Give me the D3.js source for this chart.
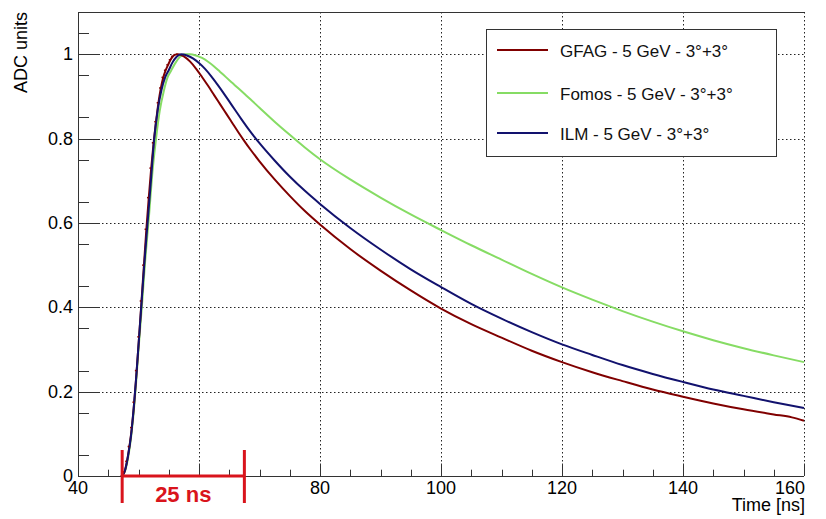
<!DOCTYPE html>
<html>
<head>
<meta charset="utf-8">
<script src="https://cdn.jsdelivr.net/npm/d3@7"></script>
<style>
  html, body { margin: 0; padding: 0; background: #fff; }
  svg { display: block; font-family: "Liberation Sans", Arial, Helvetica, sans-serif; }
</style>
</head>
<body>
<svg id="chart" width="826" height="519"></svg>
<script>
// Pulse shapes (normalised ADC amplitude vs time)
const timeGFAG = [47.3, 47.7, 48.1, 48.5, 48.9, 49.3, 49.7, 50.1, 50.5, 50.9, 51.3, 51.7, 52.1, 52.5, 52.9, 53.3, 53.7, 54.1, 54.5, 54.9, 55.3, 55.7, 56.1, 56.5, 57.5, 58.5, 59.5, 60.5, 61.5, 62.5, 63.5, 64.5, 65.5, 66.5, 67.5, 68.5, 70, 72.5, 75, 77.5, 80, 85, 90, 95, 100, 105, 110, 115, 120, 125, 130, 135, 140, 145, 150, 155, 158, 160];
const adcGFAG  = [0, 0.01, 0.035, 0.07, 0.115, 0.175, 0.25, 0.33, 0.415, 0.5, 0.585, 0.66, 0.73, 0.79, 0.84, 0.885, 0.92, 0.945, 0.962, 0.975, 0.987, 0.995, 0.999, 1.0, 0.995, 0.983, 0.966, 0.946, 0.925, 0.903, 0.881, 0.859, 0.837, 0.815, 0.794, 0.774, 0.746, 0.703, 0.664, 0.628, 0.596, 0.538, 0.487, 0.44, 0.397, 0.36, 0.328, 0.297, 0.27, 0.246, 0.225, 0.205, 0.188, 0.172, 0.158, 0.146, 0.139, 0.131];

const timeFomos = [47.3, 47.8, 48.3, 48.8, 49.2, 49.6, 50, 50.6, 51.1, 51.7, 52.3, 52.9, 53.5, 54.2, 54.8, 55.4, 56, 56.8, 57.7, 58.5, 59.5, 60.5, 61.5, 62.5, 63.5, 64.5, 65.5, 66.5, 67.5, 68.5, 70, 72.5, 75, 77.5, 80, 85, 90, 95, 100, 105, 110, 115, 120, 125, 130, 135, 140, 145, 150, 155, 160];
const adcFomos  = [0, 0.013, 0.045, 0.095, 0.15, 0.22, 0.3, 0.41, 0.51, 0.61, 0.72, 0.8, 0.865, 0.914, 0.945, 0.961, 0.977, 0.993, 1.0, 1.0, 0.997, 0.991, 0.982, 0.971, 0.958, 0.945, 0.932, 0.919, 0.906, 0.893, 0.873, 0.84, 0.809, 0.779, 0.751, 0.703, 0.66, 0.62, 0.583, 0.547, 0.513, 0.479, 0.447, 0.418, 0.391, 0.366, 0.343, 0.322, 0.303, 0.286, 0.27];

const timeILM = [47.3, 47.8, 48.3, 48.8, 49.2, 49.6, 50, 50.5, 51, 51.5, 52, 52.6, 53.2, 53.8, 54.4, 55, 55.6, 56.3, 57.1, 58, 59, 60, 61, 62, 63, 64, 65, 66, 67, 68, 69, 70, 72.5, 75, 77.5, 80, 85, 90, 95, 100, 105, 110, 115, 120, 125, 130, 135, 140, 145, 150, 155, 160];
const adcILM  = [0, 0.015, 0.05, 0.1, 0.16, 0.23, 0.31, 0.41, 0.51, 0.6, 0.69, 0.8, 0.87, 0.915, 0.945, 0.962, 0.98, 0.994, 1.0, 0.997, 0.99, 0.979, 0.965, 0.948, 0.929, 0.909, 0.888, 0.867, 0.846, 0.826, 0.807, 0.789, 0.748, 0.71, 0.676, 0.645, 0.588, 0.537, 0.49, 0.448, 0.408, 0.373, 0.341, 0.312, 0.287, 0.263, 0.242, 0.223, 0.205, 0.19, 0.175, 0.161];

const seriesNames  = ["GFAG - 5 GeV - 3°+3°", "Fomos - 5 GeV - 3°+3°", "ILM - 5 GeV - 3°+3°"];
const seriesColors = ["#800000", "#86dc64", "#12126e"];

const xTickValues  = [40, 60, 80, 100, 120, 140, 160];
const xLabelValues = [40, 80, 100, 120, 140, 160];
const xLabelTexts  = ["40", "80", "100", "120", "140", "160"];
const yTickValues = [0, 0.2, 0.4, 0.6, 0.8, 1];
const yTickLabels = ["0", "0.2", "0.4", "0.6", "0.8", "1"];

// Rise-time bracket (axis units) and its caption
const bracketRange = [47.3, 67.5];
const bracketLabel = "25 ns";

const svg = d3.select("#chart");
const plotLeft = 78, plotRight = 804, plotTop = 12, plotBottom = 476;

const x = d3.scaleLinear().domain([40, 160]).range([plotLeft, plotRight]);
const y = d3.scaleLinear().domain([0, 1.1]).range([plotBottom, plotTop]);

const gridColor = "#222";
const axisColor = "#333";

// dotted grid
const grid = svg.append("g").attr("stroke", gridColor).attr("stroke-width", 1)
  .attr("stroke-dasharray", "1.5,2.5");
grid.selectAll("line.gx").data(xTickValues.slice(1)).enter().append("line")
  .attr("x1", d => Math.round(x(d)) + 0.5).attr("x2", d => Math.round(x(d)) + 0.5)
  .attr("y1", plotTop).attr("y2", plotBottom);
grid.selectAll("line.gy").data(yTickValues.slice(1)).enter().append("line")
  .attr("x1", plotLeft).attr("x2", plotRight)
  .attr("y1", d => Math.round(y(d)) + 0.5).attr("y2", d => Math.round(y(d)) + 0.5);

// top frame
svg.append("line").attr("x1", plotLeft).attr("x2", plotRight)
  .attr("y1", plotTop + 0.5).attr("y2", plotTop + 0.5)
  .attr("stroke", axisColor).attr("stroke-width", 1);

// curves
const line = d3.line().x(d => x(d[0])).y(d => y(d[1])).curve(d3.curveMonotoneX);
const zip = (a, b) => a.map((t, i) => [t, b[i]]);
const dataGFAG = zip(timeGFAG, adcGFAG);
const dataFomos = zip(timeFomos, adcFomos);
const dataILM = zip(timeILM, adcILM);

svg.append("path").datum(dataFomos).attr("d", line).attr("fill", "none")
  .attr("stroke", seriesColors[1]).attr("stroke-width", 2);
svg.append("path").datum(dataGFAG).attr("d", line).attr("fill", "none")
  .attr("stroke", seriesColors[0]).attr("stroke-width", 2);
svg.append("path").datum(dataILM).attr("d", line).attr("fill", "none")
  .attr("stroke", seriesColors[2]).attr("stroke-width", 2);
// GFAG sample markers
svg.append("g").selectAll("rect").data(dataGFAG.filter(d => d[0] < 57)).enter().append("rect")
  .attr("x", d => x(d[0]) - 1.8).attr("y", d => y(d[1]) - 0.7)
  .attr("width", 1.5).attr("height", 1.5).attr("fill", seriesColors[0]);

// axes
const xAxis = svg.append("g").attr("stroke", axisColor).attr("stroke-width", 1);
xAxis.append("line").attr("x1", plotLeft).attr("x2", plotRight)
  .attr("y1", plotBottom + 0.5).attr("y2", plotBottom + 0.5);
xAxis.selectAll("line.maj").data(xTickValues).enter().append("line")
  .attr("x1", d => Math.round(x(d)) + 0.5).attr("x2", d => Math.round(x(d)) + 0.5)
  .attr("y1", plotBottom).attr("y2", plotBottom - 12.5);
xAxis.selectAll("line.min").data(d3.range(40, 160.1, 5).filter(v => v % 20 !== 0)).enter().append("line")
  .attr("x1", d => Math.round(x(d)) + 0.5).attr("x2", d => Math.round(x(d)) + 0.5)
  .attr("y1", plotBottom).attr("y2", plotBottom - 6.3);

const yAxis = svg.append("g").attr("stroke", axisColor).attr("stroke-width", 1);
yAxis.append("line").attr("x1", plotLeft + 0.5).attr("x2", plotLeft + 0.5)
  .attr("y1", plotTop).attr("y2", plotBottom);
yAxis.selectAll("line.maj").data(yTickValues).enter().append("line")
  .attr("x1", plotLeft).attr("x2", plotLeft + 22)
  .attr("y1", d => Math.round(y(d)) + 0.5).attr("y2", d => Math.round(y(d)) + 0.5);
yAxis.selectAll("line.min").data(d3.range(0.05, 1.1, 0.1)).enter().append("line")
  .attr("x1", plotLeft).attr("x2", plotLeft + 11)
  .attr("y1", d => Math.round(y(d)) + 0.5).attr("y2", d => Math.round(y(d)) + 0.5);

// tick labels
const lastX = xLabelValues[xLabelValues.length - 1];
svg.append("g").selectAll("text").data(xLabelValues).enter().append("text")
  .attr("x", d => d === lastX ? x(d) + 1 : x(d))
  .attr("y", 494)
  .attr("text-anchor", d => d === lastX ? "end" : "middle")
  .attr("font-size", 18).attr("fill", "#000")
  .text((d, i) => xLabelTexts[i]);
svg.append("g").selectAll("text").data(yTickValues).enter().append("text")
  .attr("x", 73).attr("y", d => y(d) + 6)
  .attr("text-anchor", "end").attr("font-size", 18).attr("fill", "#000")
  .text((d, i) => yTickLabels[i]);

// axis titles
svg.append("text").attr("x", plotRight + 1).attr("y", 511).attr("text-anchor", "end")
  .attr("font-size", 18).text("Time [ns]");
svg.append("text").attr("transform", `translate(27,${plotTop}) rotate(-90)`).attr("text-anchor", "end")
  .attr("font-size", 18).text("ADC units");

// legend
const lg = svg.append("g");
lg.append("rect").attr("x", 486.5).attr("y", 29.5).attr("width", 290).attr("height", 127)
  .attr("fill", "#fff").attr("stroke", "#333").attr("stroke-width", 1);
const rowsY = [50, 93, 133];
seriesNames.forEach((name, i) => {
  lg.append("line").attr("x1", 497).attr("x2", 548).attr("y1", rowsY[i]).attr("y2", rowsY[i])
    .attr("stroke", seriesColors[i]).attr("stroke-width", 2);
  lg.append("text").attr("x", 560).attr("y", rowsY[i] + 6.5).attr("font-size", 17)
    .attr("fill", "#111").text(name);
});

// rise-time bracket
const red = "#d9141c";
const br = svg.append("g").attr("stroke", red).attr("stroke-width", 3);
br.append("line").attr("x1", x(bracketRange[0])).attr("x2", x(bracketRange[1]))
  .attr("y1", plotBottom).attr("y2", plotBottom);
bracketRange.forEach(v => {
  br.append("line").attr("x1", x(v)).attr("x2", x(v)).attr("y1", 450).attr("y2", 503);
});
svg.append("text").attr("x", (x(bracketRange[0]) + x(bracketRange[1])) / 2).attr("y", 502)
  .attr("text-anchor", "middle").attr("font-size", 22).attr("font-weight", "bold")
  .attr("fill", red).text(bracketLabel);
</script>
</body>
</html>
